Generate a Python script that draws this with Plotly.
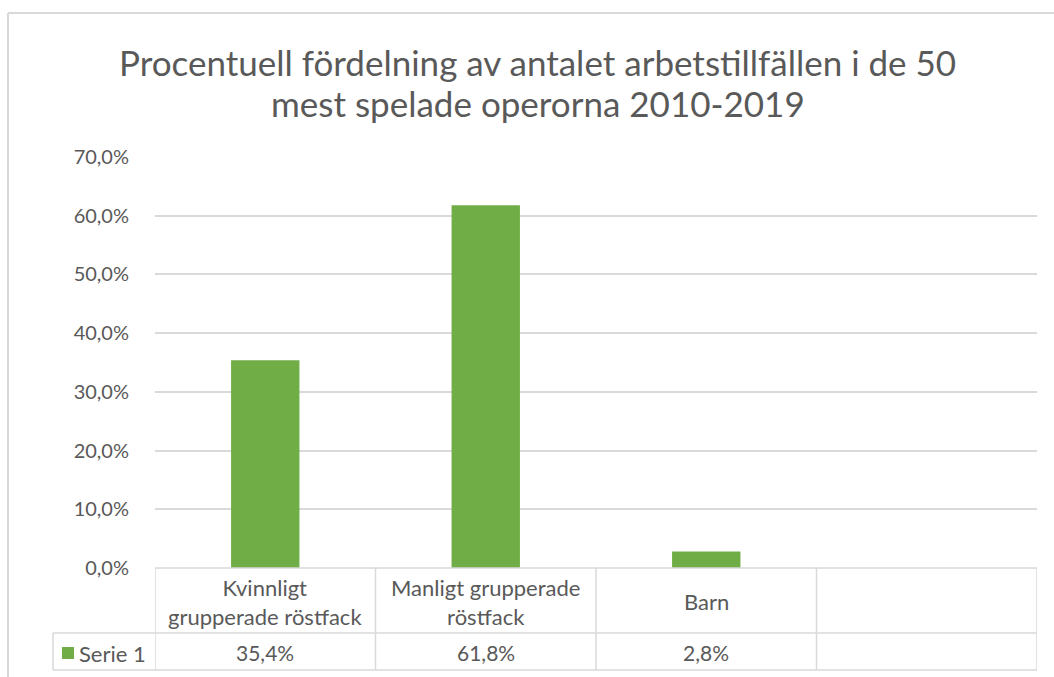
import plotly.graph_objects as go

# ---- data ----
categories = ["Kvinnligt<br>grupperade röstfack", "Manligt grupperade<br>röstfack", "Barn"]
values = [35.4, 61.8, 2.8]
value_labels = ["35,4%", "61,8%", "2,8%"]
series_name = "Serie 1"
n_columns = 4  # table has one extra empty column
tick_values = [0, 10, 20, 30, 40, 50, 60, 70]
tick_labels = ["0,0%", "10,0%", "20,0%", "30,0%", "40,0%", "50,0%", "60,0%", "70,0%"]
title_lines = ["Procentuell fördelning av antalet arbetstillfällen i de 50",
               "mest spelade operorna 2010-2019"]

# ---- style ----
W, H = 1054, 677
GREEN = "#70ad47"
TXT = "#595959"
GRID = "#d9d9d9"
FONT = "Lato"

def px(x):
    return x / W

def py(y):
    return 1 - y / H

plot_left, plot_right = 155, 1037
plot_top, plot_bottom = 157, 568
row1_bottom = 633
row2_bottom = 670
legend_left = 53
title_line_y = [62, 103]

fig = go.Figure()
fig.add_trace(go.Bar(
    x=list(range(len(categories))),
    y=values,
    width=0.31,
    marker=dict(color=GREEN, line=dict(width=0)),
    name=series_name,
    showlegend=False,
    hoverinfo="skip",
))

shapes = []
annotations = []

def hline(y, x0, x1, xref="paper"):
    shapes.append(dict(type="line", xref=xref, yref="paper", x0=x0, x1=x1,
                       y0=py(y), y1=py(y), line=dict(color=GRID, width=1.5)))

def vline(x, y0, y1, xref="paper"):
    shapes.append(dict(type="line", xref=xref, yref="paper", x0=x, x1=x,
                       y0=py(y0), y1=py(y1), line=dict(color=GRID, width=1.5)))

# chart outer border
shapes.append(dict(type="line", xref="paper", yref="paper", x0=px(8), x1=px(8),
                   y0=py(13), y1=py(H), line=dict(color=GRID, width=2)))
shapes.append(dict(type="line", xref="paper", yref="paper", x0=px(8), x1=px(W),
                   y0=py(13), y1=py(13), line=dict(color=GRID, width=2)))

# data table lines
hline(plot_bottom, px(plot_left), px(plot_right))
hline(row1_bottom, px(legend_left), px(plot_right))
hline(row2_bottom, px(legend_left), px(plot_right))
vline(px(legend_left), row1_bottom, row2_bottom)
for i in range(n_columns + 1):
    vline(i - 0.5, plot_bottom, row2_bottom, xref="x")

# table texts
for i, (cat, lab) in enumerate(zip(categories, value_labels)):
    annotations.append(dict(x=i, xref="x", y=py((plot_bottom + row1_bottom) / 2 + 1), yref="paper",
                            text=cat, showarrow=False, xanchor="center", yanchor="middle",
                            font=dict(family=FONT, size=22, color=TXT)))
    annotations.append(dict(x=i, xref="x", y=py((row1_bottom + row2_bottom) / 2 + 1), yref="paper",
                            text=lab, showarrow=False, xanchor="center", yanchor="middle",
                            font=dict(family=FONT, size=21, color=TXT)))

# legend key in table
shapes.append(dict(type="rect", xref="paper", yref="paper", x0=px(62), x1=px(74),
                   y0=py(659), y1=py(647), fillcolor=GREEN, line=dict(width=0)))
annotations.append(dict(x=px(77), xref="paper", y=py(653), yref="paper", text=series_name,
                        showarrow=False, xanchor="left", yanchor="middle",
                        font=dict(family=FONT, size=22, color=TXT)))

# title (two lines placed individually)
for line, ly in zip(title_lines, title_line_y):
    annotations.append(dict(x=px(538), xref="paper", y=py(ly), yref="paper", text=line,
                            showarrow=False, xanchor="center", yanchor="middle",
                            font=dict(family=FONT, size=35, color=TXT)))

fig.update_layout(
    width=W, height=H,
    margin=dict(l=0, r=0, t=0, b=0, pad=0, autoexpand=False),
    paper_bgcolor="white", plot_bgcolor="white",
    shapes=shapes, annotations=annotations,
    showlegend=False,
    xaxis=dict(domain=[px(plot_left), px(plot_right)], range=[-0.5, n_columns - 0.5],
               showticklabels=False, showgrid=False, zeroline=False, showline=False,
               automargin=False, fixedrange=True),
    yaxis=dict(domain=[py(plot_bottom), py(plot_top)], range=[0, 70],
               tickvals=tick_values, ticktext=tick_labels,
               showgrid=True, gridcolor=GRID, gridwidth=1.5, zeroline=False, showline=False,
               ticks="", ticklabelstandoff=25, automargin=False,
               tickfont=dict(family=FONT, size=20, color=TXT), fixedrange=True),
)

fig.write_html("out.html", post_script="document.body.style.margin='0';",
               config={"displayModeBar": False})
